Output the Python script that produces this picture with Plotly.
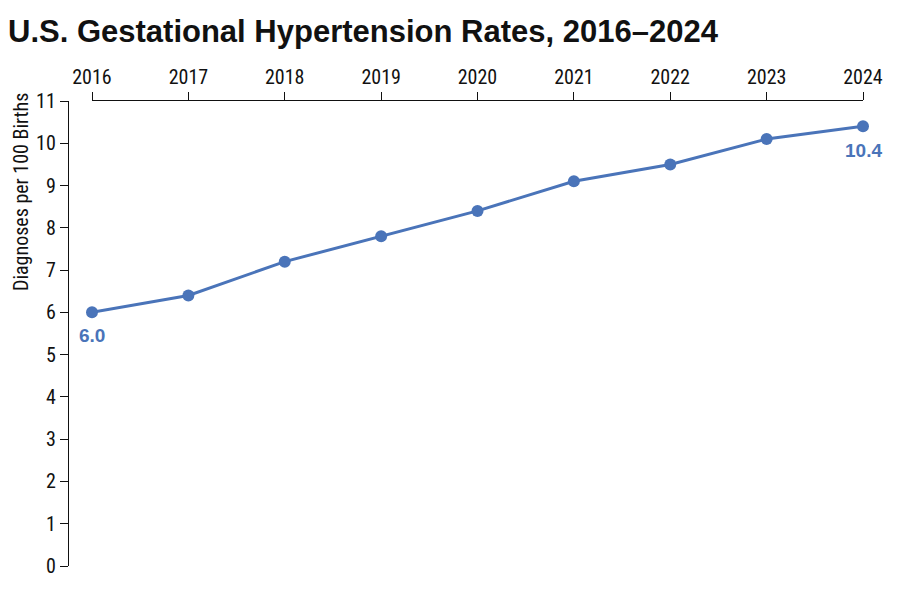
import plotly.graph_objects as go

years = [2016, 2017, 2018, 2019, 2020, 2021, 2022, 2023, 2024]
rates = [6.0, 6.4, 7.2, 7.8, 8.4, 9.1, 9.5, 10.1, 10.4]
y_ticks = list(range(0, 12))

blue = "#4a74b9"
ink = "#111111"
narrow = "Liberation Sans Narrow, Roboto Condensed, DejaVu Sans Condensed, sans-serif"
bold = "Liberation Sans, Arial, sans-serif"

fig = go.Figure()
fig.add_trace(go.Scatter(
    x=years, y=rates,
    mode="lines+markers",
    line=dict(color=blue, width=3),
    marker=dict(color=blue, size=12),
    cliponaxis=False,
    hoverinfo="x+y",
))

# value labels under the first and last points
for i, dy in ((0, -23), (-1, -24)):
    fig.add_annotation(
        x=years[i], y=rates[i], text=f"<b>{rates[i]:.1f}</b>",
        showarrow=False, yshift=dy,
        font=dict(family=bold, size=19, color=blue),
    )

# y axis title sits at the top of the axis, not centred
fig.add_annotation(
    xref="paper", yref="paper", x=0, y=1, xshift=-47, yshift=9,
    text="Diagnoses per 100 Births", textangle=-90,
    showarrow=False, xanchor="center", yanchor="top", borderpad=0,
    font=dict(family=narrow, size=20, color=ink),
)

# page body has an 8px margin, so everything is placed 8px up/left
fig.update_layout(
    width=900, height=595,
    margin=dict(l=60, r=45, t=93, b=37),
    paper_bgcolor="white", plot_bgcolor="white",
    showlegend=False,
    title=dict(
        text="<b>U.S. Gestational Hypertension Rates, 2016–2024</b>",
        x=0, xanchor="left", xref="container",
        y=1 - 23 / 595, yanchor="middle",
        font=dict(family=bold, size=31, color=ink),
    ),
    xaxis=dict(
        side="top", domain=[24 / 795, 1], range=[2016, 2024],
        tickvals=years, ticks="outside", ticklen=8, tickwidth=1.4, tickcolor=ink,
        showline=True, linecolor=ink, linewidth=1.4, showgrid=False, zeroline=False,
        tickfont=dict(family=narrow, size=20, color=ink),
    ),
    yaxis=dict(
        anchor="free", position=0, range=[0, 11],
        tickvals=y_ticks, ticks="outside", ticklen=8, tickwidth=1.4, tickcolor=ink,
        showline=True, linecolor=ink, linewidth=1.4, showgrid=False, zeroline=False,
        tickfont=dict(family=narrow, size=20, color=ink),
    ),
)

fig.write_html("out.html")
